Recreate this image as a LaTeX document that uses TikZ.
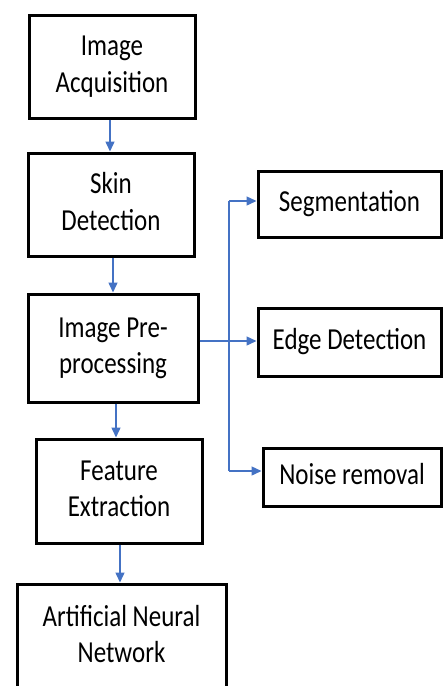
\documentclass[tikz,border=0pt]{standalone}
\usepackage{fontspec}
\setmainfont{Carlito}
\usetikzlibrary{arrows.meta}
\definecolor{flowblue}{RGB}{68,114,196}
\newcommand{\boxtext}[1]{\scalebox{1}[1.22]{\begin{tabular}{@{}c@{}}#1\end{tabular}}}
\begin{document}
\begin{tikzpicture}[x=1pt,y=-1pt,
  stage/.style={draw=black, line width=3pt, fill=white, inner sep=0pt,
    font=\fontsize{25}{30}\selectfont, text=black},
  flow/.style={draw=flowblue, line width=1.4pt, -{Triangle[length=10pt,width=9pt]}}]
\useasboundingbox (0,0) rectangle (443,686);
\clip (0,0) rectangle (443,686);

% main pipeline
\node[stage, minimum width=166pt, minimum height=103pt] (b1) at (112,66.5) {\boxtext{Image\\Acquisition}};
\node[stage, minimum width=166pt, minimum height=103pt] (b2) at (111,204.5) {\boxtext{Skin\\Detection}};
\node[stage, minimum width=170pt, minimum height=108pt] (b3) at (113,348) {\boxtext{Image Pre-\\processing}};
\node[stage, minimum width=166pt, minimum height=104pt] (b4) at (119,491) {\boxtext{Feature\\Extraction}};
\node[stage, minimum width=209pt, minimum height=106pt] (b5) at (121.5,637) {\boxtext{Artificial Neural\\Network}};

% pre-processing branches
\node[stage, minimum width=183pt, minimum height=66pt] (s1) at (349.5,204) {\boxtext{Segmentation}};
\node[stage, minimum width=183pt, minimum height=68pt] (s2) at (349.5,342) {\boxtext{Edge Detection}};
\node[stage, minimum width=178pt, minimum height=58pt] (s3) at (352,477) {\boxtext{Noise removal}};

% connector columns
\coordinate (c1) at (110,0);
\coordinate (c2) at (113,0);
\coordinate (c3) at (116,0);
\coordinate (c4) at (120,0);
\coordinate (bus) at (229,341);
\coordinate (t1) at (0,201);
\coordinate (t3) at (0,471);

\draw[flow] (b1.south -| c1) -- (b2.north -| c1);
\draw[flow] (b2.south -| c2) -- (b3.north -| c2);
\draw[flow] (b3.south -| c3) -- (b4.north -| c3);
\draw[flow] (b4.south -| c4) -- (b5.north -| c4);

% branch bus
\draw[flowblue, line width=2.6pt] (b3.east |- bus) -- (bus);
\draw[flow] (bus) -- (s2.west |- bus);
\draw[flow] (bus |- t1) -- (s1.west |- t1);
\draw[flow] (bus |- t3) -- (s3.west |- t3);
\draw[flowblue, line width=1.4pt] (bus |- t1) -- (bus |- t3);
\end{tikzpicture}
\end{document}
